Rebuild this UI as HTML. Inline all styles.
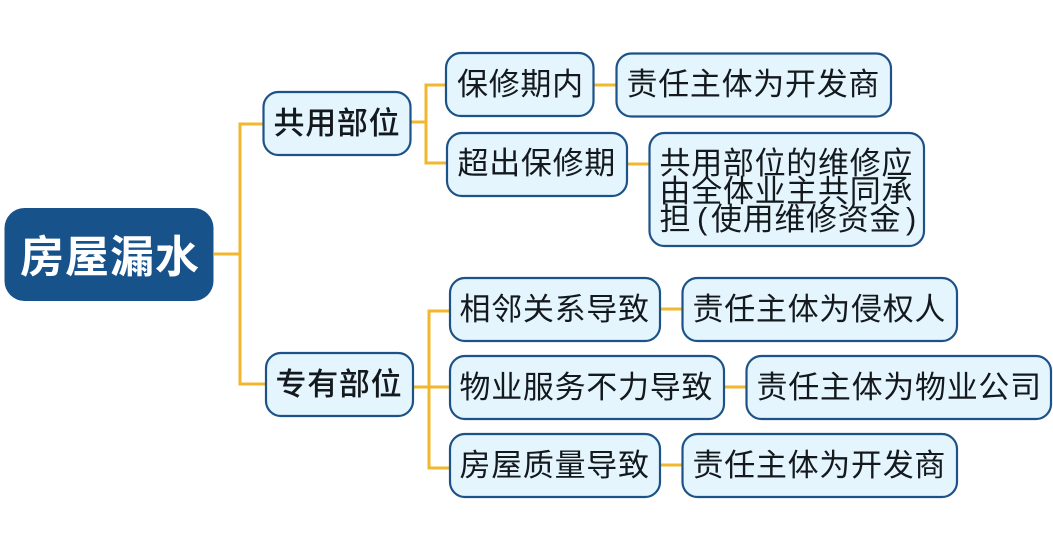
<!DOCTYPE html>
<html>
<head>
<meta charset="utf-8">
<style>
html,body{margin:0;padding:0;background:#fff;width:1053px;height:535px;overflow:hidden}
svg{display:block}
text{font-family:"Liberation Sans","Noto Sans CJK SC",sans-serif;fill:#14191e;font-size:31px;letter-spacing:.7px;-webkit-text-stroke:0.2px #14191e}
.n{fill:#e4f5fe;stroke:#1d5288;stroke-width:2.2}
.c{fill:none;stroke:#f2b72c;stroke-width:3}
.b{font-weight:500;-webkit-text-stroke:0.6px #14191e}
</style>
</head>
<body>
<svg width="1053" height="535" viewBox="0 0 1053 535" xmlns="http://www.w3.org/2000/svg">
<path class="c" d="M214 254H240M263 124H240V384H266"/>
<path class="c" d="M411 122H426M446 85H426V163H447"/>
<path class="c" d="M413 387H428M450 311H429V468H450M428 387H450"/>
<path class="c" d="M594 85H616M627 164H650M660 309H682M724 387H746M660 465H682"/>

<rect x="4.500" y="208" width="209" height="93" rx="20" fill="#17528a"/>
<text x="20" y="272" style="font-size:44px;letter-spacing:1px;fill:#fff;font-weight:700;-webkit-text-stroke:0">房屋漏水</text>

<rect class="n" x="263.500" y="92" width="147" height="63" rx="15"/>
<text class="b" x="273.500" y="134">共用部位</text>
<rect class="n" x="266" y="353" width="147" height="63" rx="15"/>
<text class="b" x="275.500" y="395">专有部位</text>

<rect class="n" x="446" y="53" width="147.500" height="63" rx="15"/>
<text x="457" y="95">保修期内</text>
<rect class="n" x="616.500" y="53.500" width="274.500" height="63" rx="15"/>
<text x="626.500" y="95">责任主体为开发商</text>

<rect class="n" x="447" y="133" width="180" height="63" rx="15"/>
<text x="457.500" y="174">超出保修期</text>
<rect class="n" x="649.500" y="133" width="274.500" height="113" rx="15"/>
<text x="659.500" y="174">共用部位的维修应</text>
<text x="659.500" y="202">由全体业主共同承</text>
<text x="659.500" y="230">担</text>
<text x="697" y="229" style="-webkit-text-stroke:0">(</text>
<text x="711" y="230">使用维修资金</text>
<text x="906" y="229" style="-webkit-text-stroke:0">)</text>

<rect class="n" x="450" y="278" width="210" height="63" rx="15"/>
<text x="459.500" y="320">相邻关系导致</text>
<rect class="n" x="682.500" y="278" width="274.500" height="63" rx="15"/>
<text x="692.500" y="320">责任主体为侵权人</text>

<rect class="n" x="450" y="356" width="274" height="63" rx="15"/>
<text x="459.500" y="398">物业服务不力导致</text>
<rect class="n" x="746.500" y="356" width="304.500" height="63" rx="15"/>
<text x="756.500" y="398">责任主体为物业公司</text>

<rect class="n" x="450" y="434" width="210" height="63" rx="15"/>
<text x="459.500" y="476">房屋质量导致</text>
<rect class="n" x="682.500" y="434" width="274.500" height="63" rx="15"/>
<text x="692.500" y="476">责任主体为开发商</text>
</svg>
</body>
</html>
